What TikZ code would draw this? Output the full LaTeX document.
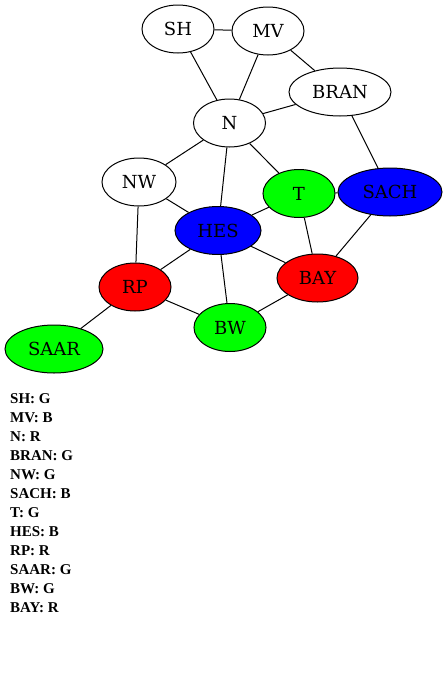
\documentclass[tikz,border=0pt]{standalone}
\usepackage{fontspec}
\usetikzlibrary{shapes.geometric}
\newfontfamily\nodefont{DejaVu Serif}
\newfontfamily\listfont{Liberation Serif}
\definecolor{gg}{HTML}{00FF00}
\definecolor{bb}{HTML}{0000FF}
\definecolor{rr}{HTML}{FF0000}
\begin{document}
\begin{tikzpicture}[x=1pt,y=-1pt,
  st/.style={ellipse,draw=black,line width=1pt,inner sep=0pt,minimum height=48pt,
    font=\nodefont\fontsize{18}{20}\selectfont},
  e/.style={line width=1pt},
  lst/.style={anchor=base west,inner sep=0pt,font=\listfont\bfseries\fontsize{15}{17}\selectfont}]
\useasboundingbox (0,0) rectangle (447,678);
\node[st,minimum width=72pt] (SH) at (178,29) {SH};
\node[st,minimum width=72pt] (MV) at (268,31) {MV};
\node[st,minimum width=102pt] (BRAN) at (340,92) {BRAN};
\node[st,minimum width=72pt] (N) at (229.5,123) {N};
\node[st,minimum width=74pt] (NW) at (139,182) {NW};
\node[st,minimum width=72pt,fill=gg] (T) at (299,193.5) {T};
\node[st,minimum width=104pt,fill=bb] (SACH) at (390,192) {SACH};
\node[st,minimum width=86pt,fill=bb] (HES) at (218,230.5) {HES};
\node[st,minimum width=81pt,fill=rr] (BAY) at (317.5,278) {BAY};
\node[st,minimum width=72pt,fill=rr] (RP) at (135,287) {RP};
\node[st,minimum width=72pt,fill=gg] (BW) at (230,327.5) {BW};
\node[st,minimum width=98pt,fill=gg] (SAAR) at (54,349) {SAAR};
\foreach \a/\b in {SH/MV,SH/N,MV/N,MV/BRAN,BRAN/N,BRAN/SACH,N/NW,N/HES,N/T,NW/HES,NW/RP,T/SACH,T/HES,T/BAY,SACH/BAY,HES/RP,HES/BAY,HES/BW,RP/BW,RP/SAAR,BAY/BW}
  \draw[e] (\a) -- (\b);
\node[lst] (l1) at (10,403) {SH: G};
\node[lst] (l2) at (10,422) {MV: B};
\node[lst] (l3) at (10,441) {N: R};
\node[lst] (l4) at (10,460) {BRAN: G};
\node[lst] (l5) at (10,479) {NW: G};
\node[lst] (l6) at (10,498) {SACH: B};
\node[lst] (l7) at (10,517) {T: G};
\node[lst] (l8) at (10,536) {HES: B};
\node[lst] (l9) at (10,555) {RP: R};
\node[lst] (l10) at (10,574) {SAAR: G};
\node[lst] (l11) at (10,593) {BW: G};
\node[lst] (l12) at (10,612) {BAY: R};
\end{tikzpicture}
\end{document}
